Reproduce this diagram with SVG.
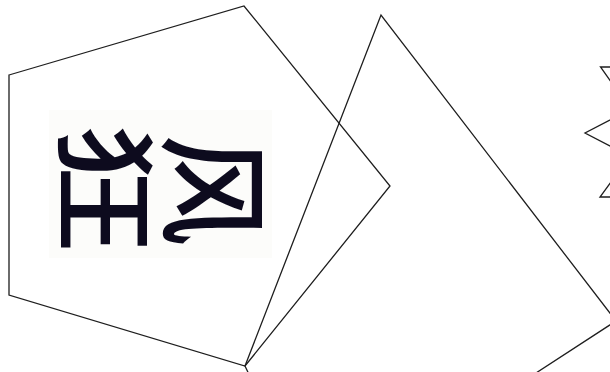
<svg xmlns="http://www.w3.org/2000/svg" width="610" height="372" viewBox="0 0 610 372">
  <style>
    .ln { fill: none; stroke: #1e1e1e; stroke-width: 1.3; stroke-linejoin: miter; }
    .ch { font-family: "Noto Sans CJK SC", "Noto Sans CJK TC", sans-serif; font-weight: 500; fill: #0d0b1e; text-anchor: middle; dominant-baseline: central; }
  </style>
  <rect x="0" y="0" width="610" height="372" fill="#ffffff"/>
  <g id="label">
    <rect x="49" y="110" width="223" height="148" fill="#fcfcfa"/>
    <text class="ch" font-size="100" transform="translate(112,188) rotate(90) scale(1.3,1.05)">狂</text>
    <text class="ch" font-size="112" transform="translate(220,190) rotate(90)">风</text>
  </g>
  <g id="pentagon">
    <polygon class="ln" points="9,75 244,6 390,186 245,366 9,295"/>
  </g>
  <g id="quad">
    <polygon class="ln" points="245,366 381,15 616,321 316,516"/>
  </g>
  <g id="star">
    <polyline class="ln" points="614,67 600.5,67 614,86"/>
    <polyline class="ln" points="614,118 585,133 614,148"/>
    <polyline class="ln" points="614,178 600,197 614,197"/>
  </g>
</svg>
